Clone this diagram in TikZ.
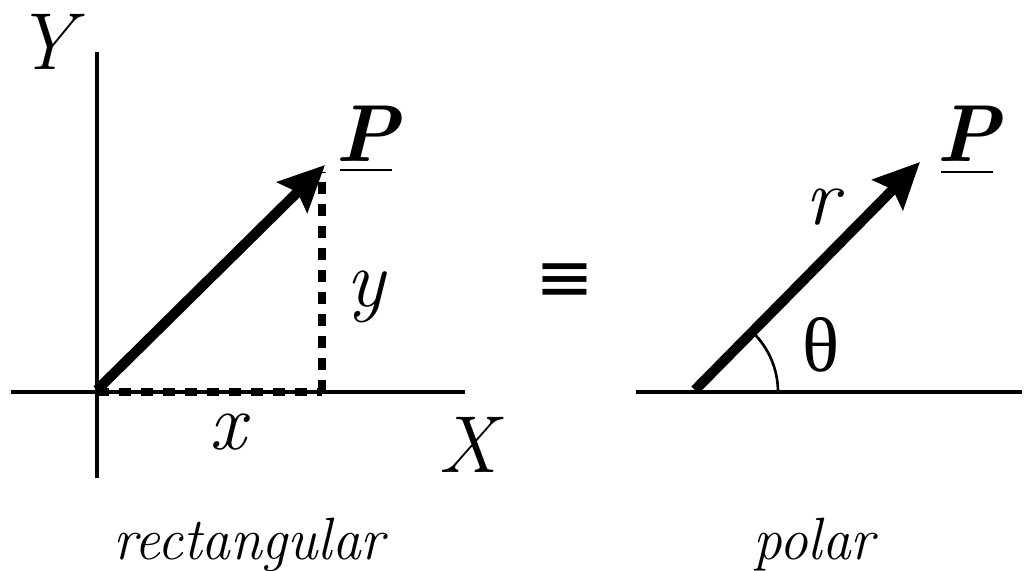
\documentclass[tikz,border=0pt]{standalone}
\usepackage{fontspec}
\newfontfamily\thfont{Liberation Serif}
\newfontfamily\symfont{DejaVu Sans}
\usetikzlibrary{arrows.meta}
\begin{document}
\begin{tikzpicture}[x=0.02cm,y=-0.02cm,
  axis/.style={line width=2.3pt},
  vec/.style={line width=5.8pt,-{Stealth[length=26pt,width=24pt,inset=4pt]}},
  dashline/.style={line width=4pt,dash pattern=on 7pt off 5.5pt},
  lbl/.style={font=\itshape\fontsize{46}{46}\selectfont,inner sep=0pt},
  captext/.style={font=\itshape\fontsize{34}{34}\selectfont,inner sep=0pt,xscale=0.96}]
\useasboundingbox (0,0) rectangle (1024,571);
% rectangular
\coordinate (O1) at (97,390);
\coordinate (P1) at (325,165);
\coordinate (Yt) at (97,52);
\coordinate (Yb) at (97,478);
\coordinate (Xl) at (11,392);
\coordinate (Xr) at (465,392);
\coordinate (Fx) at (322,392);
\coordinate (Fy) at (322,172);
\draw[axis] (Yt) -- (Yb);
\draw[axis] (Xl) -- (Xr);
\draw[dashline] (O1|-Fx) -- (Fx);
\draw[dashline] (Fx) -- (Fy);
\draw[vec] (O1) -- (P1);
\node[lbl] (Y) at (45,42) {Y};
\node[lbl] (X) at (468,445) {X};
\node[lbl] (x) at (228,432) {x};
\node[lbl] (y) at (366,297) {y};
\node[lbl,font=\bfseries\itshape\fontsize{46}{46}\selectfont] (P) at (367,134) {P};
\draw[line width=1.4pt] (340,170) -- (392,170);
\node[inner sep=0pt,font=\symfont\fontsize{40}{40}\selectfont] (eq) at (565,283) {≡};
% polar
\coordinate (O2) at (695,390);
\coordinate (P2) at (920,162);
\coordinate (Hl) at (636,392);
\coordinate (Hr) at (1022,392);
\draw[axis] (Hl) -- (Hr);
\draw[line width=1.5pt] (778,392) arc[start angle=0,end angle=-46,radius=83];
\draw[vec] (O2) -- (P2);
\node[lbl] (r) at (822,207) {r};
\node[inner sep=0pt,font=\thfont\fontsize{44}{44}\selectfont] (th) at (821,345) {θ};
\node[lbl,font=\bfseries\itshape\fontsize{46}{46}\selectfont] (P') at (968,134) {P};
\draw[line width=1.4pt] (941,172) -- (993,172);
\node[captext] (rect) at (249,545) {rectangular};
\node[captext] (pol) at (814,545) {polar};
\end{tikzpicture}
\end{document}
